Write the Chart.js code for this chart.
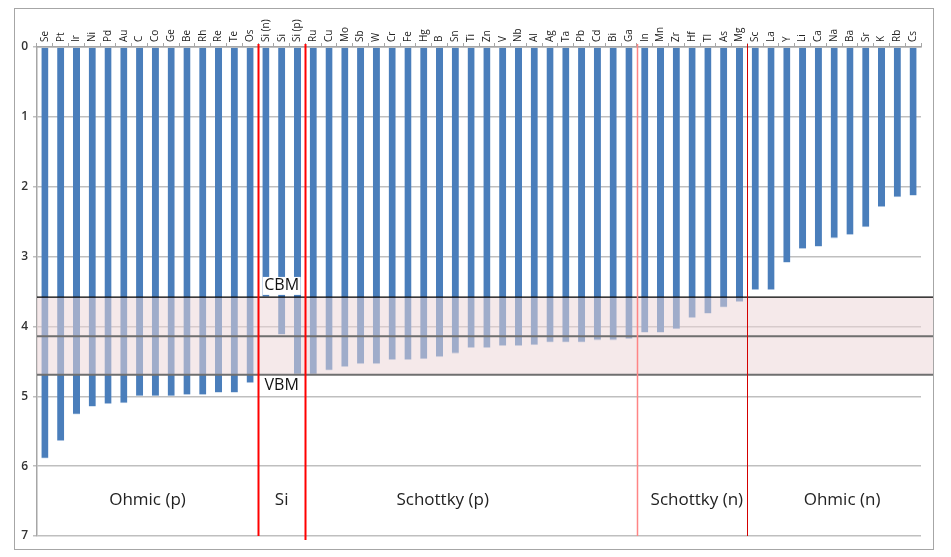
<!DOCTYPE html>
<html>
<head>
<meta charset="utf-8">
<script src="https://cdn.jsdelivr.net/npm/chart.js@4"></script>
<style>
  body { margin: 0; background: #fff; }
  canvas { display: block; }
</style>
</head>
<body>
<canvas id="wf-chart" width="951" height="557"></canvas>
<script>
const elements = ['Se', 'Pt', 'Ir', 'Ni', 'Pd', 'Au', 'C', 'Co', 'Ge', 'Be', 'Rh', 'Re', 'Te', 'Os',
    'Si (n)', 'Si', 'Si (p)',
    'Ru', 'Cu', 'Mo', 'Sb', 'W', 'Cr', 'Fe', 'Hg', 'B', 'Sn', 'Ti', 'Zn', 'V', 'Nb', 'Al', 'Ag', 'Ta', 'Pb', 'Cd', 'Bi', 'Ga',
    'In', 'Mn', 'Zr', 'Hf', 'Tl', 'As', 'Mg',
    'Sc', 'La', 'Y', 'Li', 'Ca', 'Na', 'Ba', 'Sr', 'K', 'Rb', 'Cs'];
const workFunction = [5.89, 5.64, 5.26, 5.15, 5.11, 5.10, 5.00, 5.00, 5.00, 4.98, 4.98, 4.95, 4.95, 4.81,
    3.58, 4.12, 4.69,
    4.69, 4.63, 4.58, 4.54, 4.54, 4.48, 4.48, 4.47, 4.44, 4.39, 4.31, 4.31, 4.28, 4.28, 4.27, 4.23, 4.23, 4.23, 4.20, 4.20, 4.18,
    4.09, 4.09, 4.04, 3.88, 3.82, 3.73, 3.65,
    3.48, 3.48, 3.09, 2.89, 2.86, 2.74, 2.69, 2.58, 2.29, 2.15, 2.13];
const yTicks = [0, 1, 2, 3, 4, 5, 6, 7];

// silicon band edges
const cbm = 3.58;
const midgap = 4.14;
const vbm = 4.69;

// group separators (after these category indexes) and group names
const splitAfter = [13, 16, 37, 44];
const groupNames = ['Ohmic (p)', 'Si', 'Schottky (p)', 'Schottky (n)', 'Ohmic (n)'];
const groupLabelAt = [6.5, 15, 25.2, 41.3, 50.5];

const overlay = {
    id: 'overlay',
    afterDatasetsDraw(chart) {
        const { ctx, chartArea: a, scales: { x, y } } = chart;
        const right = 933;
        const slot = (x.getPixelForValue(1) - x.getPixelForValue(0));
        ctx.save();

        // band between CBM and VBM
        ctx.fillStyle = 'rgba(236, 214, 216, 0.53)';
        ctx.fillRect(a.left, y.getPixelForValue(cbm), right - a.left, y.getPixelForValue(vbm) - y.getPixelForValue(cbm));

        const hline = (v, color, w) => {
            ctx.strokeStyle = color;
            ctx.lineWidth = w;
            ctx.beginPath();
            ctx.moveTo(a.left, y.getPixelForValue(v));
            ctx.lineTo(right, y.getPixelForValue(v));
            ctx.stroke();
        };
        hline(cbm, '#000', 1.3);
        hline(midgap, '#6f6f6f', 2);
        hline(vbm, '#6f6f6f', 2);

        // red separators
        const vstyles = [['#ff0000', 2], ['#ff0000', 2], ['#ff8585', 1.5], ['#d40000', 1]];
        splitAfter.forEach((i, k) => {
            const px = Math.round(x.getPixelForValue(i) + slot / 2) + 0.5;
            ctx.strokeStyle = vstyles[k][0];
            ctx.lineWidth = vstyles[k][1];
            ctx.beginPath();
            ctx.moveTo(px, a.top - 3);
            ctx.lineTo(px, a.bottom + (k === 1 ? 4 : 0));
            ctx.stroke();
        });

        // CBM / VBM labels
        ctx.font = '16px "Open Sans", sans-serif';
        ctx.textAlign = 'center';
        ctx.textBaseline = 'middle';
        const sx = x.getPixelForValue(15);
        ctx.fillStyle = '#fff';
        ctx.fillRect(sx - 19, y.getPixelForValue(3.42) - 9, 38, 18);
        ctx.fillStyle = '#111';
        ctx.fillText('CBM', sx, y.getPixelForValue(3.42));
        ctx.fillText('VBM', sx, y.getPixelForValue(4.85));

        // group names
        ctx.font = '17px "Open Sans", sans-serif';
        ctx.fillStyle = '#222';
        groupNames.forEach((name, k) => {
            ctx.fillText(name, x.getPixelForValue(groupLabelAt[k]), y.getPixelForValue(6.48));
        });

        // outer frame
        ctx.strokeStyle = '#a6a6a6';
        ctx.lineWidth = 1;
        ctx.strokeRect(14.5, 8.5, 919, 541);
        ctx.restore();
    }
};

new Chart(document.getElementById('wf-chart'), {
    type: 'bar',
    data: {
        labels: elements,
        datasets: [{
            data: workFunction,
            backgroundColor: '#4a7ebb',
            borderColor: '#b9cde5',
            borderWidth: { left: 0, right: 0, top: 0, bottom: 0.8 },
            borderSkipped: false,
            barPercentage: 0.9,
            categoryPercentage: 0.5,
        }],
    },
    options: {
        responsive: false,
        animation: false,
        devicePixelRatio: 1,
        layout: { padding: { left: 0, top: 0, right: 30, bottom: 21 } },
        plugins: {
            legend: { display: false },
            tooltip: { enabled: false },
        },
        scales: {
            x: {
                position: 'top',
                afterFit: scale => { scale.height = 47; },
                grid: {
                    offset: true,
                    drawOnChartArea: false,
                    tickLength: 4,
                    color: '#a6a6a6',
                },
                border: { color: '#a6a6a6', width: 1.5 },
                ticks: {
                    autoSkip: false,
                    minRotation: 90,
                    maxRotation: 90,
                    padding: 1,
                    labelOffset: 12,
                    color: '#222',
                    font: { family: '"Open Sans", sans-serif', size: 10 },
                },
            },
            y: {
                reverse: true,
                min: 0,
                max: 7,
                afterFit: scale => { scale.width = 37; },
                afterBuildTicks: scale => { scale.ticks = yTicks.map(v => ({ value: v })); },
                grid: {
                    color: '#bfbfbf',
                    lineWidth: 1.5,
                    tickLength: 4,
                },
                border: { color: '#a6a6a6', width: 1.5 },
                ticks: {
                    padding: 5,
                    color: '#333',
                    font: { family: '"Open Sans", sans-serif', size: 12, weight: '600' },
                },
            },
        },
    },
    plugins: [overlay],
});
</script>
</body>
</html>
